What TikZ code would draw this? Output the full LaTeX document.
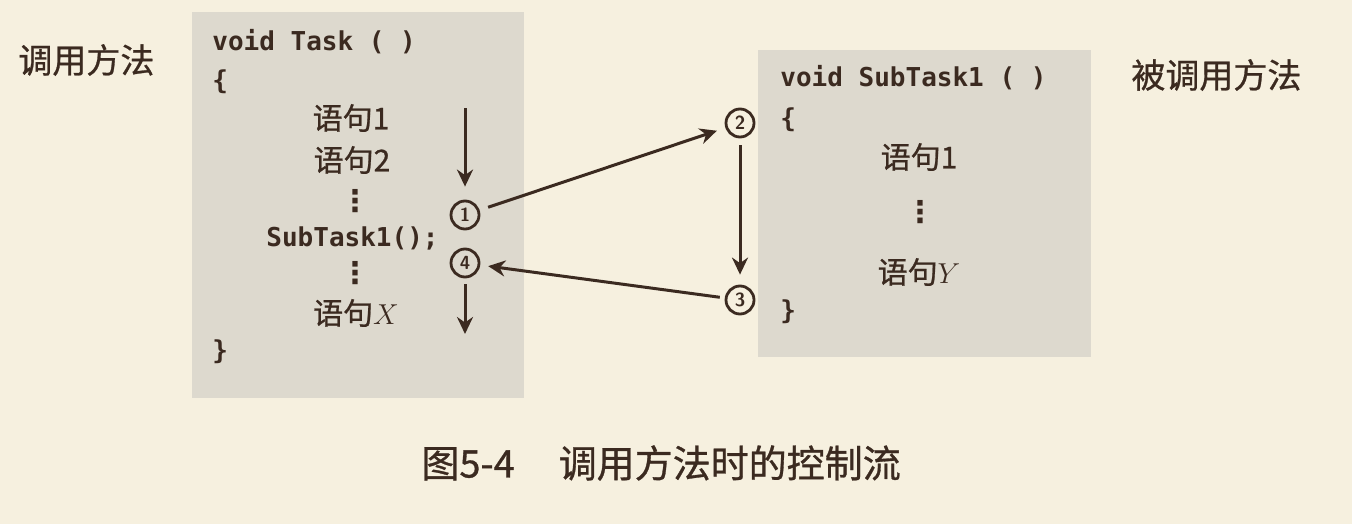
\documentclass[tikz,border=0pt]{standalone}
\usepackage{fontspec}
\newfontfamily\cjk[FakeBold=0.8]{Noto Sans CJK SC}
\newfontfamily\codefont{DejaVu Sans Mono}
\newfontfamily\symfont{DejaVu Sans}
\usetikzlibrary{arrows.meta}

\definecolor{paper}{HTML}{F6F0DF}
\definecolor{codebg}{HTML}{DDD9CE}
\definecolor{ink}{HTML}{3B2A20}

\begin{document}
\begin{tikzpicture}[x=0.5pt, y=-0.5pt,
    code/.style={anchor=west, inner sep=0pt, text=ink, font=\codefont\bfseries\fontsize{13pt}{15pt}\selectfont},
    stmt/.style={inner sep=0pt, text=ink, font=\cjk\fontsize{15pt}{17pt}\selectfont},
    dotsnode/.style={inner sep=0pt, text=ink, font=\symfont\bfseries\fontsize{15pt}{15pt}\selectfont},
    numcirc/.style={circle, draw=ink, line width=1.4pt, minimum size=14pt, inner sep=0pt, text=ink, font=\sffamily\bfseries\fontsize{9.5pt}{10pt}\selectfont},
    flow/.style={draw=ink, line width=1.5pt, -{Stealth[length=8.5pt, width=8pt]}},
    sidenote/.style={anchor=west, inner sep=0pt, text=ink, font=\cjk\fontsize{17pt}{19pt}\selectfont},
    figcap/.style={anchor=west, inner sep=0pt, text=ink, font=\cjk\fontsize{19pt}{21pt}\selectfont}]
        \useasboundingbox (0,0) rectangle (1352,524);
        \fill[paper] (0,0) rectangle (1352,524);
        \fill[codebg] (192,12) rectangle (524,398);
        \fill[codebg] (758,50) rectangle (1091,357);

        \coordinate (T0) at (465,108);
        \coordinate (T5) at (465,334);

        \node[sidenote] (caller) at (18,60) {调用方法};
        \node[sidenote] (callee) at (1131,75) {被调用方法};

        \node[code] (taskhead) at (212,42) {void Task ( )};
        \node[code] (taskopen) at (212,82) {\{};
        \node[stmt] (s1) at (351,118) {语句1};
        \node[stmt] (s2) at (352,160) {语句2};
        \node[dotsnode] (d1) at (355,201) {⋮};
        \node[code] (call) at (266,238) {SubTask1();};
        \node[dotsnode] (d2) at (355,273) {⋮};
        \node[stmt] (sx) at (356,313) {语句$X$};
        \node[code] (taskclose) at (212,352) {\}};

        \node[code] (subhead) at (780,78) {void SubTask1 ( )};
        \node[code] (subopen) at (780,120) {\{};
        \node[stmt] (y1) at (919,157) {语句1};
        \node[dotsnode] (d3) at (920,212) {⋮};
        \node[stmt] (sy) at (919,272) {语句$Y$};
        \node[code] (subclose) at (780,312) {\}};

        \node[numcirc] (c1) at (465,215) {1};
        \node[numcirc] (c4) at (465,263) {4};
        \node[numcirc] (c2) at (740,123) {2};
        \node[numcirc] (c3) at (740,300) {3};

        \draw[flow, shorten >=6.5pt] (T0) -- (c1);
        \draw[flow, shorten <=4.5pt, shorten >=4.5pt] (c1) -- (c2);
        \draw[flow, shorten <=3.5pt, shorten >=5pt] (c2) -- (c3);
        \draw[flow, shorten <=2.5pt, shorten >=4pt] (c3) -- (c4);
        \draw[flow, shorten <=3pt] (c4) -- (T5);

        \node[figcap] (cap) at (421,463) {图5-4\hspace{22pt}调用方法时的控制流};
    \end{tikzpicture}
\end{document}
